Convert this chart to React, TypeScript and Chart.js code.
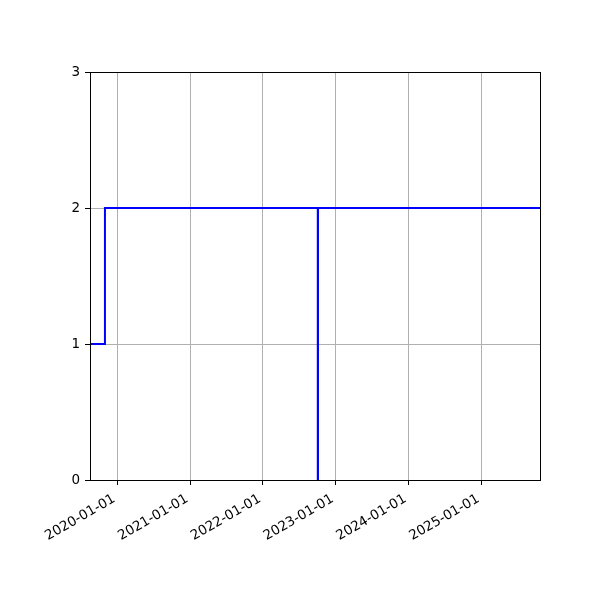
import React, { useEffect, useRef } from "react";
import { Chart, registerables } from "chart.js";

Chart.register(...registerables);

// Data
const dates = ["2019-08-17", "2019-10-31", "2022-10-03", "2022-10-04", "2025-10-22"];
const values = [1, 2, 0, 2, 2];
const xMinDate = "2019-08-17";
const xMaxDate = "2025-10-22";
const tickYears = [2020, 2021, 2022, 2023, 2024, 2025];
const yTicks = [0, 1, 2, 3];

const toMs = (s: string) => {
  const [y, m, d] = s.split("-").map(Number);
  return Date.UTC(y, m - 1, d);
};
const fmt = (ms: number) => {
  const d = new Date(ms);
  const p = (n: number) => String(n).padStart(2, "0");
  return `${d.getUTCFullYear()}-${p(d.getUTCMonth() + 1)}-${p(d.getUTCDate())}`;
};

const frame = {
  id: "frame",
  afterDraw(chart: any) {
    const { ctx, chartArea } = chart;
    const l = Math.round(chartArea.left) + 0.5;
    const t = Math.round(chartArea.top) + 0.5;
    const r = Math.round(chartArea.right) + 0.5;
    const b = Math.round(chartArea.bottom) + 0.5;
    ctx.save();
    ctx.strokeStyle = "#000";
    ctx.lineWidth = 1;
    ctx.strokeRect(l, t, r - l, b - t);
    ctx.restore();
  },
};

export default function App() {
  const ref = useRef<HTMLCanvasElement>(null);
  useEffect(() => {
    if (!ref.current) return;
    Chart.defaults.font.family = "'DejaVu Sans', sans-serif";
    Chart.defaults.font.size = 13.5;
    Chart.defaults.color = "#000";
    const chart = new Chart(ref.current, {
      type: "line",
      data: {
        datasets: [
          {
            data: dates.map((d, i) => ({ x: toMs(d), y: values[i] })),
            borderColor: "#0000ff",
            borderWidth: 2,
            pointRadius: 0,
            stepped: "before",
            fill: false,
            tension: 0,
          },
        ],
      },
      options: {
        animation: false,
        responsive: false,
        events: [],
        layout: { padding: { top: 72, right: 60, left: 0, bottom: 0 } },
        plugins: { legend: { display: false }, tooltip: { enabled: false } },
        scales: {
          x: {
            type: "linear",
            min: toMs(xMinDate),
            max: toMs(xMaxDate),
            afterBuildTicks: (s: any) => {
              s.ticks = tickYears.map((y) => ({ value: Date.UTC(y, 0, 1) }));
            },
            afterFit: (s: any) => {
              s.height = 120;
            },
            ticks: {
              autoSkip: false,
              minRotation: 30,
              maxRotation: 30,
              padding: 6,
              labelOffset: -3,
              callback: (v: any) => fmt(Number(v)),
            },
            grid: { color: "#b0b0b0", lineWidth: 1, tickColor: "#000", tickLength: 5 },
            border: { display: false },
          },
          y: {
            type: "linear",
            min: 0,
            max: 3,
            afterBuildTicks: (s: any) => {
              s.ticks = yTicks.map((v) => ({ value: v }));
            },
            afterFit: (s: any) => {
              s.width = 90;
            },
            ticks: { padding: 5, callback: (v: any) => String(v) },
            grid: { color: "#b0b0b0", lineWidth: 1, tickColor: "#000", tickLength: 5 },
            border: { display: false },
          },
        },
      },
      plugins: [frame],
    });
    return () => chart.destroy();
  }, []);
  return (
    <div style={{ position: "fixed", left: 0, top: 0, width: 600, height: 600, background: "#fff" }}>
      <canvas ref={ref} width={600} height={600} style={{ width: 600, height: 600 }} />
    </div>
  );
}
